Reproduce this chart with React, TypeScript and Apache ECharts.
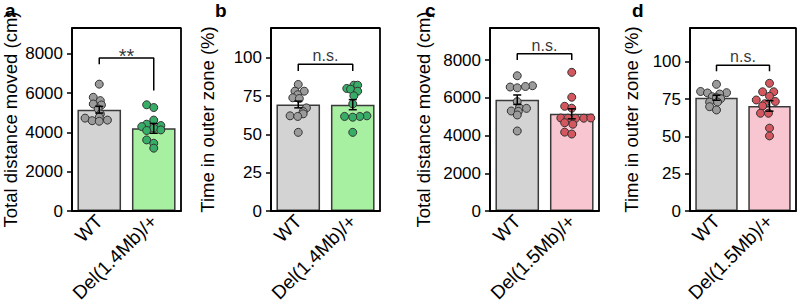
import React, { useEffect, useRef } from "react";
import * as echarts from "echarts";

// ---------- data ----------
const categories14 = ["WT", "Del(1.4Mb)/+"];
const categories15 = ["WT", "Del(1.5Mb)/+"];

// Panel a: total distance (cm), Del(1.4Mb)
const meanA = [5160, 4210];
const semA = [170, 250];
const wtA = [6460, 5790, 5620, 5450, 5400, 5200, 4940, 4770, 4730, 4630, 4600, 4570];
const wtAOff = [0, -0.11, 0.02, -0.11, 0.04, -0.02, 0.02, 0, -0.26, 0.15, -0.13, 0];
const delA = [5410, 5270, 4630, 4420, 4350, 4300, 4220, 4130, 4100, 3620, 3450, 3200];
const delAOff = [-0.13, 0, 0, -0.13, 0.13, -0.22, 0, 0.13, -0.13, -0.13, 0, 0];

// Panel b: time in outer zone (%), Del(1.4Mb)
const meanB = [69.6, 69.5];
const semB = [2.2, 3.3];
const wtB = [82.7, 78.3, 78.3, 76, 74, 73.5, 67.4, 65, 63.5, 62.2, 61.8, 51.4];
const wtBOff = [0, -0.06, 0.11, -0.01, -0.1, 0.02, 0.15, 0.09, 0.09, -0.15, -0.01, 0];
const delB = [82.2, 82.2, 80.1, 79.6, 78.3, 75.3, 70, 62.2, 61.8, 61.8, 61.3, 51.4];
const delBOff = [0.02, 0.09, -0.11, -0.04, 0.09, 0.02, 0, 0.26, -0.15, 0.13, 0, 0];

// Panel c: total distance (cm), Del(1.5Mb)
const meanC = [5900, 5150];
const semC = [250, 265];
const wtC = [7170, 6640, 6600, 6570, 6530, 5800, 5470, 5440, 5300, 5280, 5090, 4240];
const wtCOff = [0, 0.28, 0.15, -0.13, 0, 0, 0.04, 0.17, -0.11, 0.02, 0, 0];
const delC = [7350, 6030, 5550, 5450, 4930, 4920, 4910, 4920, 4930, 4680, 4600, 4180, 4080];
const delCOff = [0, 0, -0.13, 0, -0.2, -0.07, 0.07, 0.22, 0.35, -0.13, 0.02, -0.13, 0];

// Panel d: time in outer zone (%), Del(1.5Mb)
const meanD = [76, 70.5];
const semD = [1.7, 3.5];
const wtD = [85, 80.2, 79.2, 79.4, 78.5, 76.7, 76, 75.4, 73.1, 73.1, 70, 67.8];
const wtDOff = [0, -0.3, -0.17, 0.19, 0.06, -0.08, 0, 0.08, -0.13, 0.02, -0.13, 0];
const delD = [85.7, 80, 80, 77, 74.5, 73.5, 72, 70.5, 65.6, 65.6, 55.6, 50.4];
const delDOff = [0, -0.13, 0.08, 0, -0.25, 0.11, -0.09, -0.13, -0.17, -0.02, 0, 0];

// axes
const ticksDistance = [0, 2000, 4000, 6000, 8000];
const ticksPercent = [0, 25, 50, 75, 100];
const maxA = 9320;
const maxB = 119.6;
const maxC = 9700;
const maxD = 122.8;

// significance: [left leg bottom, bar top, right leg bottom, label y]
const sigA = [7480, 7790, 6140, 7900];
const sigB = [91.5, 95.9, 91.5, 101.8];
const sigC = [8000, 8340, 8000, 8790];
const sigD = [93.8, 97.8, 93.8, 104];
const sigLabels = ["**", "n.s.", "n.s.", "n.s."];

const yNames = [
  "Total distance moved (cm)",
  "Time in outer zone (%)",
  "Total distance moved (cm)",
  "Time in outer zone (%)",
];
const letters = ["a", "b", "c", "d"];

// ---------- styles ----------
const FONT = "'Liberation Sans', Arial, Helvetica, sans-serif";
const GREY_BAR = "#d3d3d3";
const GREEN_BAR = "#a7efa1";
const PINK_BAR = "#f8c6d0";
const GREY_DOT = "#9b9b9b";
const GREEN_DOT = "#38ad68";
const RED_DOT = "#d4565e";

const panels = [
  { cats: categories14, mean: meanA, sem: semA, wt: wtA, wtOff: wtAOff, del: delA, delOff: delAOff, ticks: ticksDistance, max: maxA, sig: sigA, delBar: GREEN_BAR, delDot: GREEN_DOT, left: 72, width: 109, nameGap: 52, letterLeft: 5 },
  { cats: categories14, mean: meanB, sem: semB, wt: wtB, wtOff: wtBOff, del: delB, delOff: delBOff, ticks: ticksPercent, max: maxB, sig: sigB, delBar: GREEN_BAR, delDot: GREEN_DOT, left: 271, width: 109, nameGap: 54, letterLeft: 215 },
  { cats: categories15, mean: meanC, sem: semC, wt: wtC, wtOff: wtCOff, del: delC, delOff: delCOff, ticks: ticksDistance, max: maxC, sig: sigC, delBar: PINK_BAR, delDot: RED_DOT, left: 490, width: 109, nameGap: 57, letterLeft: 425 },
  { cats: categories15, mean: meanD, sem: semD, wt: wtD, wtOff: wtDOff, del: delD, delOff: delDOff, ticks: ticksPercent, max: maxD, sig: sigD, delBar: PINK_BAR, delDot: RED_DOT, left: 690, width: 106, nameGap: 49, letterLeft: 632 },
];

const axisLine = () => ({ show: true, onZero: false, lineStyle: { color: "#000", width: 1.8 } });

function buildOption() {
  const grid: any[] = [];
  const xAxis: any[] = [];
  const yAxis: any[] = [];
  const series: any[] = [];
  const title: any[] = [];

  panels.forEach((p, i) => {
    grid.push({ left: p.left, top: 28, width: p.width, height: 183, outerBoundsMode: "none", containLabel: false });
    xAxis.push({
      type: "category",
      gridIndex: i,
      data: p.cats,
      axisLine: axisLine(),
      axisTick: { alignWithLabel: true, length: 5, lineStyle: { color: "#000", width: 1.5 } },
      axisLabel: { rotate: 45, fontSize: 19, color: "#000", margin: 7, interval: 0, fontFamily: FONT },
    });
    xAxis.push({
      type: "value",
      gridIndex: i,
      min: -0.5,
      max: 1.5,
      show: false,
    });
    yAxis.push({
      type: "value",
      gridIndex: i,
      min: 0,
      max: p.max,
      name: yNames[i],
      nameLocation: "middle",
      nameGap: p.nameGap,
      nameTextStyle: { fontSize: 18.5, color: "#000", fontFamily: FONT },
      splitLine: { show: false },
      axisLine: axisLine(),
      axisTick: { show: true, length: 5, customValues: p.ticks, lineStyle: { color: "#000", width: 1.5 } },
      axisLabel: {
        customValues: p.ticks,
        formatter: (v: number) => String(v),
        fontSize: 17,
        color: "#000",
        margin: 9,
        fontFamily: FONT,
      },
    });
    title.push({
      text: letters[i],
      left: p.letterLeft,
      top: 1,
      padding: 0,
      textStyle: { fontSize: 19, fontWeight: "bold", color: "#000", fontFamily: FONT },
    });

    const catX = 2 * i;
    const valX = 2 * i + 1;
    const yi = i;

    series.push({
      type: "bar",
      xAxisIndex: catX,
      yAxisIndex: yi,
      barWidth: "80%",
      data: p.mean.map((m, k) => ({
        value: m,
        itemStyle: { color: k === 0 ? GREY_BAR : p.delBar, borderColor: "#3a3a3a", borderWidth: 1.5 },
      })),
    });
    series.push({
      type: "scatter",
      xAxisIndex: valX,
      yAxisIndex: yi,
      symbolSize: 8,
      z: 3,
      itemStyle: { color: GREY_DOT, borderColor: "#333", borderWidth: 1, opacity: 1 },
      data: p.wt.map((v, k) => [0 + p.wtOff[k], v]),
    });
    series.push({
      type: "scatter",
      xAxisIndex: valX,
      yAxisIndex: yi,
      symbolSize: 8,
      z: 3,
      itemStyle: { color: p.delDot, borderColor: "#333", borderWidth: 1, opacity: 1 },
      data: p.del.map((v, k) => [1 + p.delOff[k], v]),
    });
    series.push({
      type: "custom",
      xAxisIndex: valX,
      yAxisIndex: yi,
      z: 5,
      renderItem: (params: any, api: any) => {
        const x = api.value(0);
        const m = api.value(1);
        const s = api.value(2);
        const top = api.coord([x, m + s]);
        const bot = api.coord([x, m - s]);
        const hw = 4;
        const st = { stroke: "#000", lineWidth: 1.5 };
        return {
          type: "group",
          children: [
            { type: "line", shape: { x1: top[0], y1: top[1], x2: bot[0], y2: bot[1] }, style: st },
            { type: "line", shape: { x1: top[0] - hw, y1: top[1], x2: top[0] + hw, y2: top[1] }, style: st },
            { type: "line", shape: { x1: bot[0] - hw, y1: bot[1], x2: bot[0] + hw, y2: bot[1] }, style: st },
          ],
        };
      },
      data: p.mean.map((m, k) => [k, m, p.sem[k]]),
    });
    // plot frame along the axis extents
    series.push({
      type: "line",
      xAxisIndex: valX,
      yAxisIndex: yi,
      symbol: "none",
      clip: false,
      silent: true,
      z: 7,
      lineStyle: { color: "#000", width: 1.8 },
      data: [
        [-0.5, 0],
        [-0.5, p.max],
        [1.5, p.max],
        [1.5, 0],
        [-0.5, 0],
      ],
    });
    series.push({
      type: "line",
      xAxisIndex: valX,
      yAxisIndex: yi,
      symbol: "none",
      z: 5,
      lineStyle: { color: "#000", width: 1.5 },
      data: [
        [0, p.sig[0]],
        [0, p.sig[1]],
        [1, p.sig[1]],
        [1, p.sig[2]],
      ],
    });
    series.push({
      type: "scatter",
      xAxisIndex: valX,
      yAxisIndex: yi,
      symbolSize: 1,
      z: 6,
      itemStyle: { color: "transparent" },
      label: {
        show: true,
        position: "inside",
        formatter: sigLabels[i],
        fontSize: i === 0 ? 20 : 16,
        color: "#000",
        fontFamily: FONT,
      },
      data: [[0.5, p.sig[3]]],
    });
  });

  return {
    animation: false,
    textStyle: { fontFamily: FONT },
    title,
    grid,
    xAxis,
    yAxis,
    series,
  };
}

export default function App() {
  const ref = useRef<HTMLDivElement>(null);
  useEffect(() => {
    if (!ref.current) return;
    const chart = echarts.init(ref.current, null, { renderer: "svg" });
    chart.setOption(buildOption());
    return () => chart.dispose();
  }, []);
  return (
    <div
      ref={ref}
      style={{ position: "fixed", left: 0, top: 0, width: 797, height: 303, background: "#fff" }}
    />
  );
}
